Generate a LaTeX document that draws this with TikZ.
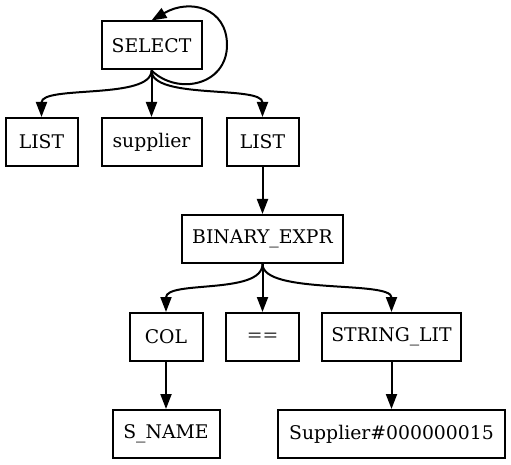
\documentclass[tikz,border=0pt]{standalone}
\usepackage{fontspec}
\setmainfont{DejaVu Serif}
\usetikzlibrary{arrows.meta}
\begin{document}
\begin{tikzpicture}[x=1pt,y=-1pt,
  box/.style={draw, line width=2pt, minimum height=48pt, inner sep=0pt,
    font=\fontsize{18.8}{22}\selectfont},
  edge/.style={line width=2pt, -{Triangle[length=15pt,width=11pt]}}]
\useasboundingbox (0,0) rectangle (511,465);
% tree nodes
\node[box, minimum width=100pt] (sel) at (151.5,45.5) {SELECT};
\node[box, minimum width=72pt] (l1) at (41.5,142) {LIST};
\node[box, minimum width=100pt] (sup) at (151.5,142) {supplier};
\node[box, minimum width=72pt] (l2) at (262.5,142) {LIST};
\node[box, minimum width=161pt] (bin) at (262.5,239) {BINARY\_EXPR};
\node[box, minimum width=73pt] (col) at (166,337) {COL};
\node[box, minimum width=73pt, text=black!75] (eq) at (262.5,337) {==};
\node[box, minimum width=139pt] (str) at (391.5,337) {STRING\_LIT};
\node[box, minimum width=107pt] (sn) at (166,434) {S\_NAME};
\node[box, minimum width=227pt] (lit) at (391.5,434) {Supplier\#000000015};
% edges
\draw[edge] (sel.south) .. controls (151.5,100) and (41.5,85) .. (l1.north);
\draw[edge] (sel.south) -- (sup.north);
\draw[edge] (sel.south) .. controls (151.5,100) and (262.5,85) .. (l2.north);
\draw[edge] (sel.south) .. controls (178,96) and (227,85) .. (227,45)
  .. controls (227,8) and (190,-2) .. (sel.north);
\draw[edge] (l2.south) -- (bin.north);
\draw[edge] (bin.south) .. controls (262.5,295) and (166,280) .. (col.north);
\draw[edge] (bin.south) -- (eq.north);
\draw[edge] (bin.south) .. controls (262.5,295) and (391.5,280) .. (str.north);
\draw[edge] (col.south) -- (sn.north);
\draw[edge] (str.south) -- (lit.north);
\end{tikzpicture}
\end{document}
